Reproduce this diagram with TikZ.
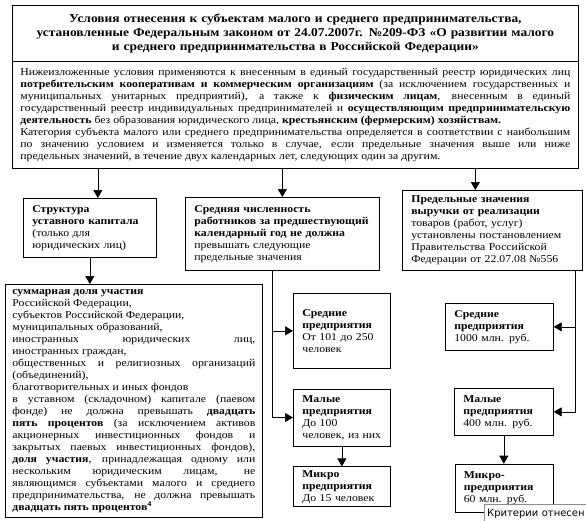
\documentclass[tikz,border=0pt]{standalone}
\usepackage{fontspec}
\setmainfont{Liberation Serif}[FakeStretch=1.12]
\newfontfamily\tipfont{DejaVu Sans}
\usepackage{tikz}
\usetikzlibrary{arrows.meta, positioning}
\hbadness=10000

\begin{document}
\begin{tikzpicture}[
    x=1pt, y=-1pt,
    box/.style={draw, line width=0.7pt, anchor=north west, align=left,
                inner xsep=9pt, inner ysep=3pt,
                font=\fontsize{10.5}{12}\selectfont},
    jbox/.style={box, align=justify, inner xsep=8pt},
    arr/.style={-{Triangle[length=8pt, width=9pt]}, line width=0.7pt},
    tip/.style={draw=black!45, fill=white, anchor=north west, inner sep=2pt,
                minimum width=110pt, minimum height=20pt, text width=104pt,
                align=left, font=\tipfont\fontsize{10}{12}\selectfont},
  ]
  \useasboundingbox (0,0) rectangle (586,520);

  % ── TITLE ──
  \node[box, align=center, inner xsep=8pt, text width=550pt, minimum height=56pt,
        font=\fontsize{12}{14}\selectfont\bfseries] (title) at (12,5)
    {Условия отнесения к субъектам малого и среднего предпринимательства,\\
     установленные Федеральным законом от 24.07.2007г. №209-ФЗ «О развитии малого\\
     и среднего предпринимательства в Российской Федерации»};

  % ── INTRO ──
  \node[jbox, text width=550pt, minimum height=107pt] (intro) at (12,61)
    {Нижеизложенные условия применяются к внесенным в единый государственный реестр юридических лиц\linebreak
     \textbf{потребительским кооперативам и коммерческим организациям} (за исключением государственных и\linebreak
     муниципальных унитарных предприятий), а также к \textbf{физическим лицам}, внесенным в единый\linebreak
     государственный реестр индивидуальных предпринимателей и \textbf{осуществляющим предпринимательскую\linebreak
     деятельность} без образования юридического лица, \textbf{крестьянским (фермерским) хозяйствам.}\newline
     Категория субъекта малого или среднего предпринимательства определяется в соответствии с наибольшим\linebreak
     по значению условием и изменяется только в случае, если предельные значения выше или ниже\linebreak
     предельных значений, в течение двух календарных лет, следующих один за другим.};

  % ── CAPITAL ──
  \node[box, text width=115pt, minimum height=59pt] (struct) at (23,198)
    {\textbf{Структура}\\ \textbf{уставного капитала}\\ (только для\\ юридических лиц)};
  \draw[arr] ([xshift=8pt]struct.north |- intro.south) -- ([xshift=8pt]struct.north);

  \node[jbox, inner xsep=7pt, inner ysep=5pt, text width=243pt] (share) at (5,284)
    {\textbf{суммарная доля участия}\newline
     Российской Федерации,\newline
     субъектов Российской Федерации,\newline
     муниципальных образований,\newline
     иностранных юридических лиц,\linebreak
     иностранных граждан,\newline
     общественных и религиозных организаций\linebreak
     (объединений),\newline
     благотворительных и иных фондов\newline
     в уставном (складочном) капитале (паевом\linebreak
     фонде) не должна превышать \textbf{двадцать\linebreak
     пять процентов} (за исключением активов\linebreak
     акционерных инвестиционных фондов и\linebreak
     закрытых паевых инвестиционных фондов),\linebreak
     \textbf{доля участия}, принадлежащая одному или\linebreak
     нескольким юридическим лицам, не\linebreak
     являющимся субъектами малого и среднего\linebreak
     предпринимательства, не должна превышать\linebreak
     \textbf{двадцать пять процентов\textsuperscript{4}}};
  \draw[arr] (struct.south) -- (struct.south |- share.north);

  % ── STAFF ──
  \node[box, text width=176pt, minimum height=73pt] (mid) at (185,197)
    {\textbf{Средняя численность}\\ \textbf{работников за предшествующий}\\
     \textbf{календарный год не должна}\\ превышать следующие\\ предельные значения};
  \draw[arr] (intro.south -| mid.north) -- (mid.north);

  \node[box, text width=79pt, minimum height=75pt] (midL) at (293,293)
    {\textbf{Средние}\\ \textbf{предприятия}\\ От 101 до 250\\ человек};
  \node[box, text width=79pt, minimum height=57pt, below=20pt of midL] (smallL)
    {\textbf{Малые}\\ \textbf{предприятия}\\ До 100\\ человек, из них};
  \node[box, text width=79pt, minimum height=40pt, below=20pt of smallL] (microL)
    {\textbf{Микро}\\ \textbf{предприятия}\\ До 15 человек};
  \draw[arr] ([xshift=-10pt]mid.south) |- (midL.west);
  \draw[arr] ([xshift=-10pt]mid.south) |- (smallL.west);
  \draw[arr] (smallL) -- (microL);

  % ── REVENUE ──
  \node[box, text width=162pt, minimum height=80pt] (rev) at (402,190)
    {\textbf{Предельные значения}\\ \textbf{выручки от реализации}\\ товаров (работ, услуг)\\
     установлены постановлением\\ Правительства Российской\\ Федерации от 22.07.08 №556};
  \draw[arr] ([xshift=-17pt]intro.south -| rev.north) -- ([xshift=-17pt]rev.north);

  \node[box, text width=90pt, minimum height=47pt] (midR) at (445,303)
    {\textbf{Средние}\\ \textbf{предприятия}\\ 1000 млн. руб.};
  \node[box, text width=81pt, minimum height=47pt] (smallR) at (454,388)
    {\textbf{Малые}\\ \textbf{предприятия}\\ 400 млн. руб.};
  \node[box, text width=80pt, minimum height=48pt, below=28pt of smallR] (microR)
    {\textbf{Микро-}\\ \textbf{предприятия}\\ 60 млн. руб.};
  \draw[arr] ([xshift=-7pt]rev.south east) |- (midR.east);
  \draw[arr] ([xshift=-7pt]rev.south east) |- (smallR.east);
  \draw[arr] (smallR) -- (microR);

  % ── TOOLTIP ──
  \node[tip] (hint) at (484,504) {Критерии отнесен};
\end{tikzpicture}
\end{document}
